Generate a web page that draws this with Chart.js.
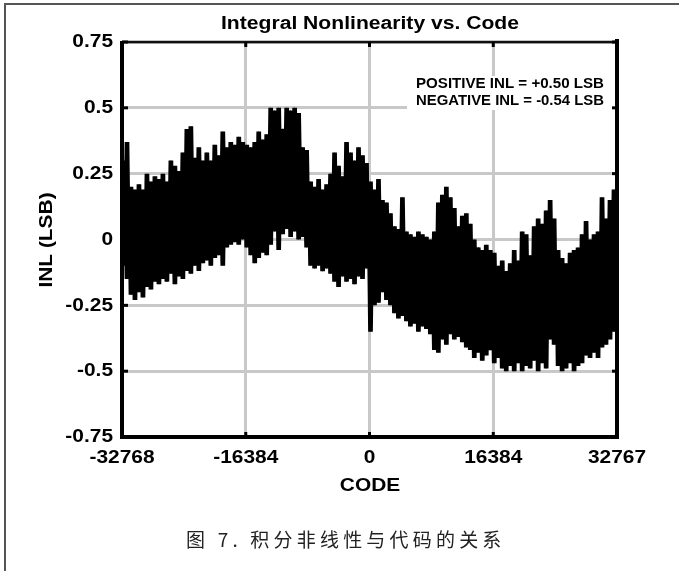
<!DOCTYPE html>
<html>
<head>
<meta charset="utf-8">
<script src="https://cdn.jsdelivr.net/npm/chart.js@4/dist/chart.umd.min.js"></script>
<style>
  html, body { margin: 0; padding: 0; background: #fff; }
  #wrap { position: relative; width: 679px; height: 571px; overflow: hidden; }
  #frame { position: absolute; left: 4px; top: 3px; right: -10px; bottom: -10px;
           border-top: 2px solid #555; border-left: 2px solid #555; }
  #caption { position: absolute; left: 186px; top: 525px; font-family: "Noto Sans CJK SC", sans-serif;
             font-size: 19px; letter-spacing: 4.2px; color: #222; white-space: nowrap; }
  canvas { position: absolute; left: 0; top: 0; }
</style>
</head>
<body>
<div id="wrap">
  <div id="frame"></div>
  <canvas id="c" width="679" height="571"></canvas>
  <div id="caption">图 7. 积分非线性与代码的关系</div>
</div>
<script>
// ---- data ----
const CODE_MIN = -32768;
const CODE_MAX = 32767;
const xTickValues = [-32768, -16384, 0, 16384, 32767];
const xTickLabels = ['-32768', '-16384', '0', '16384', '32767'];
const yTickValues = [0.75, 0.5, 0.25, 0, -0.25, -0.5, -0.75];
const yTickLabels = ['0.75', '0.5', '0.25', '0', '-0.25', '-0.5', '-0.75'];
const titleText = 'Integral Nonlinearity vs. Code';
const xTitle = 'CODE';
const yTitle = 'INL (LSB)';
const noteLines = ['POSITIVE INL = +0.50 LSB', 'NEGATIVE INL = -0.54 LSB'];

// upper and lower envelope of the INL trace, evenly spaced over the code range
const inlHigh = [
  0.30, 0.37, 0.20, 0.19, 0.21, 0.19, 0.25, 0.22, 0.24, 0.23,
  0.25, 0.22, 0.30, 0.28, 0.26, 0.33, 0.42, 0.43, 0.31, 0.35,
  0.30, 0.33, 0.30, 0.36, 0.32, 0.41, 0.35, 0.37, 0.36, 0.39,
  0.37, 0.36, 0.35, 0.37, 0.41, 0.38, 0.40, 0.50, 0.49, 0.50,
  0.42, 0.50, 0.49, 0.50, 0.48, 0.35, 0.34, 0.22, 0.20, 0.23,
  0.19, 0.21, 0.25, 0.33, 0.28, 0.24, 0.37, 0.33, 0.30, 0.35,
  0.32, 0.29, 0.22, 0.19, 0.23, 0.15, 0.14, 0.10, 0.05, 0.04,
  0.16, 0.03, 0.02, 0.01, 0.03, 0.02, 0.01, 0.00, 0.03, 0.14,
  0.17, 0.20, 0.16, 0.12, 0.05, 0.09, 0.10, 0.06, 0.00, -0.03,
  -0.04, -0.02, -0.04, -0.05, -0.10, -0.08, -0.12, -0.09, -0.04, -0.08,
  0.03, 0.02, -0.06, 0.05, 0.08, 0.06, 0.11, 0.15, 0.08, -0.04,
  -0.07, -0.09, -0.05, -0.04, -0.03, 0.02, 0.07, 0.00, 0.02, 0.03,
  0.16, 0.08, 0.15, 0.19, 0.20
];
const inlLow = [
  -0.10, -0.15, -0.21, -0.23, -0.20, -0.22, -0.18, -0.19, -0.16, -0.17,
  -0.15, -0.16, -0.13, -0.17, -0.14, -0.15, -0.12, -0.13, -0.10, -0.12,
  -0.09, -0.08, -0.10, -0.07, -0.06, -0.10, -0.03, -0.02, -0.01, -0.02,
  0.00, -0.03, -0.06, -0.09, -0.07, -0.05, -0.06, -0.02, 0.03, -0.04,
  0.02, 0.04, 0.01, 0.03, 0.00, 0.01, -0.03, -0.10, -0.11, -0.10,
  -0.12, -0.11, -0.13, -0.16, -0.18, -0.14, -0.16, -0.15, -0.17, -0.14,
  -0.15, -0.11, -0.35, -0.25, -0.24, -0.20, -0.23, -0.25, -0.28, -0.30,
  -0.29, -0.31, -0.33, -0.32, -0.35, -0.33, -0.34, -0.36, -0.42, -0.43,
  -0.38, -0.40, -0.36, -0.38, -0.37, -0.39, -0.41, -0.42, -0.45, -0.43,
  -0.46, -0.44, -0.42, -0.47, -0.45, -0.49, -0.50, -0.48, -0.50, -0.47,
  -0.50, -0.48, -0.49, -0.46, -0.50, -0.47, -0.49, -0.38, -0.40, -0.48,
  -0.50, -0.49, -0.47, -0.50, -0.48, -0.47, -0.44, -0.45, -0.43, -0.45,
  -0.41, -0.40, -0.38, -0.35, -0.32
];

// trace: alternate between the upper and lower envelope values (two phases)
const nSamp = inlHigh.length;
const codeStep = (CODE_MAX - CODE_MIN) / (nSamp - 1);
const traceA = [], traceB = [];
for (let i = 0; i < nSamp; i++) {
  const c0 = CODE_MIN + i * codeStep;
  const c1 = Math.min(CODE_MAX, c0 + 0.5 * codeStep);
  traceA.push({ x: c0, y: inlHigh[i] });
  traceA.push({ x: c1, y: inlLow[i] });
  traceB.push({ x: c0, y: inlLow[i] });
  traceB.push({ x: c1, y: inlHigh[i] });
}

const FONT = '"Liberation Sans", Arial, sans-serif';
function drawText(ctx, s, x, y, size, align, sx, rot, fitWidth) {
  ctx.save();
  ctx.translate(x, y);
  if (rot) ctx.rotate(rot);
  ctx.font = 'bold ' + size + 'px ' + FONT;
  let scale = sx || 1;
  if (fitWidth) scale = fitWidth / ctx.measureText(s).width;
  ctx.scale(scale, 1);
  ctx.textAlign = align;
  ctx.textBaseline = 'middle';
  ctx.fillStyle = '#000';
  ctx.fillText(s, 0, 0);
  ctx.restore();
}

const decor = {
  id: 'decor',
  afterDraw(chart) {
    const ctx = chart.ctx;
    const xs = chart.scales.x, ys = chart.scales.y;
    const L = chart.chartArea.left, R = chart.chartArea.right;
    const T = chart.chartArea.top, B = chart.chartArea.bottom;

    // note box
    ctx.fillStyle = '#fff';
    ctx.fillRect(407, 76, R - 407 - 2, 34);
    drawText(ctx, noteLines[0], 604, 84, 14, 'right', 1, 0, 188);
    drawText(ctx, noteLines[1], 604, 101, 14, 'right', 1, 0, 188);

    // frame
    ctx.save();
    ctx.lineCap = 'butt';
    ctx.lineWidth = 2.5; ctx.strokeStyle = '#111';
    ctx.beginPath(); ctx.moveTo(L, T); ctx.lineTo(R, T); ctx.stroke();
    ctx.strokeStyle = '#000';
    ctx.lineWidth = 4;
    ctx.beginPath(); ctx.moveTo(L, T - 1); ctx.lineTo(L, B + 2); ctx.stroke();
    ctx.beginPath(); ctx.moveTo(L - 2, B); ctx.lineTo(R + 2, B); ctx.stroke();
    ctx.beginPath(); ctx.moveTo(R, T - 3); ctx.lineTo(R, B + 2); ctx.stroke();
    // inner tick marks
    ctx.lineWidth = 3;
    xTickValues.forEach(v => {
      const px = xs.getPixelForValue(v);
      ctx.beginPath(); ctx.moveTo(px, T); ctx.lineTo(px, T + 5); ctx.stroke();
      ctx.beginPath(); ctx.moveTo(px, B); ctx.lineTo(px, B - 5); ctx.stroke();
    });
    yTickValues.forEach(v => {
      const py = ys.getPixelForValue(v);
      ctx.beginPath(); ctx.moveTo(L, py); ctx.lineTo(L + 6, py); ctx.stroke();
      ctx.beginPath(); ctx.moveTo(R, py); ctx.lineTo(R - 5, py); ctx.stroke();
    });
    ctx.restore();

    // tick labels
    yTickValues.forEach((v, i) => {
      drawText(ctx, yTickLabels[i], 113, ys.getPixelForValue(v), 19, 'right', 1.1);
    });
    xTickValues.forEach((v, i) => {
      drawText(ctx, xTickLabels[i], xs.getPixelForValue(v), 458, 19, 'center', 1.1);
    });
    // titles
    drawText(ctx, titleText, 370, 24, 18, 'center', 1, 0, 298);
    drawText(ctx, xTitle, 370, 486, 19, 'center', 1.1);
    drawText(ctx, yTitle, 47, 240, 19, 'center', 1.1, -Math.PI / 2);
  }
};

const lineStyle = { borderColor: '#000', borderWidth: 2.7, pointRadius: 0, tension: 0, fill: false };

new Chart(document.getElementById('c'), {
  type: 'line',
  data: {
    datasets: [
      Object.assign({ data: traceA }, lineStyle),
      Object.assign({ data: traceB }, lineStyle)
    ]
  },
  options: {
    responsive: false,
    animation: false,
    devicePixelRatio: 1,
    layout: { padding: { left: 122, right: 62, top: 42, bottom: 134 } },
    plugins: { legend: { display: false }, tooltip: { enabled: false }, title: { display: false } },
    scales: {
      x: {
        type: 'linear', min: CODE_MIN, max: CODE_MAX,
        afterBuildTicks: s => { s.ticks = xTickValues.map(v => ({ value: v })); },
        afterFit: s => { s.height = 0; },
        ticks: { display: false },
        border: { display: false },
        grid: { color: '#c8c8c8', lineWidth: 3, drawTicks: false }
      },
      y: {
        type: 'linear', min: -0.75, max: 0.75,
        afterBuildTicks: s => { s.ticks = yTickValues.map(v => ({ value: v })); },
        afterFit: s => { s.width = 0; },
        ticks: { display: false },
        border: { display: false },
        grid: { color: '#c8c8c8', lineWidth: 3, drawTicks: false }
      }
    }
  },
  plugins: [decor]
});
</script>
</body>
</html>
